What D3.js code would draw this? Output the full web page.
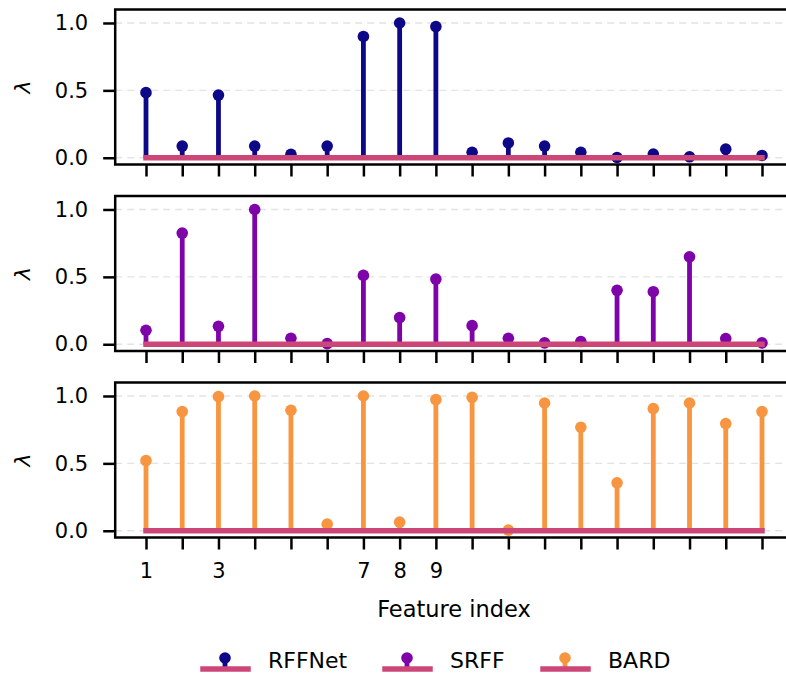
<!DOCTYPE html>
<html>
<head>
<meta charset="utf-8">
<script src="https://cdn.jsdelivr.net/npm/d3@7"></script>
<style>
  body { margin: 0; background: #fff; }
  svg { display: block; font-family: "DejaVu Sans", sans-serif; }
  .grid line { stroke: #e3e3e3; stroke-width: 1.4; stroke-dasharray: 7,5; }
  .axis path { display: none; }
  .axis line { stroke: #000; stroke-width: 2.5; }
  .spine { fill: none; stroke: #000; stroke-width: 2.5; }
</style>
</head>
<body>
<div id="chart"></div>
<script>
// feature indices and lambda values for each method
var features = [1, 2, 3, 4, 5, 6, 7, 8, 9, 10, 11, 12, 13, 14, 15, 16, 17, 18];
var labeledTicks = [1, 3, 7, 8, 9];
var yTicks = [0, 0.5, 1.0];
var methods = ["RFFNet", "SRFF", "BARD"];
var rffnet = [0.483, 0.087, 0.465, 0.087, 0.025, 0.087, 0.90, 1.0, 0.973, 0.04, 0.11, 0.087, 0.04, 0.002, 0.027, 0.007, 0.064, 0.017];
var srff   = [0.104, 0.825, 0.133, 1.0, 0.044, 0.005, 0.511, 0.198, 0.484, 0.138, 0.044, 0.01, 0.02, 0.40, 0.39, 0.649, 0.042, 0.01];
var bard   = [0.521, 0.884, 0.995, 1.0, 0.894, 0.049, 1.0, 0.064, 0.973, 0.99, 0.005, 0.948, 0.768, 0.356, 0.906, 0.948, 0.795, 0.884];
var series = [rffnet, srff, bard];
var colors = ["#0d0887", "#7e03a8", "#f89540"];
var baseColor = "#cc4778";

var W = 786, H = 677;
var left = 115.2, right = 792.8;
var panelTop = [9.5, 196, 382.5];
var panelH = 155;

var svg = d3.select("#chart").append("svg").attr("width", W).attr("height", H);

var x = d3.scaleLinear().domain([0.15, 18.85]).range([left, right]);

series.forEach(function(vals, p) {
    var top = panelTop[p], bottom = top + panelH;
    var y = d3.scaleLinear().domain([-0.05, 1.1]).range([bottom, top]);
    var g = svg.append("g");

    // dashed horizontal grid
    g.append("g").attr("class", "grid").selectAll("line")
        .data(yTicks).enter().append("line")
        .attr("x1", left).attr("x2", right)
        .attr("y1", function(d) { return y(d); })
        .attr("y2", function(d) { return y(d); });

    var data = features.map(function(f, i) { return {f: f, v: vals[i]}; });

    // stems
    g.selectAll("line.stem").data(data).enter().append("line")
        .attr("class", "stem")
        .attr("x1", function(d) { return x(d.f); })
        .attr("x2", function(d) { return x(d.f); })
        .attr("y1", y(0))
        .attr("y2", function(d) { return y(d.v); })
        .attr("stroke", colors[p]).attr("stroke-width", 4.8);

    // markers
    g.selectAll("circle").data(data).enter().append("circle")
        .attr("cx", function(d) { return x(d.f); })
        .attr("cy", function(d) { return y(d.v); })
        .attr("r", 5.8)
        .attr("fill", colors[p]);

    // baseline
    g.append("line")
        .attr("x1", x(features[0])).attr("x2", x(features[features.length - 1]))
        .attr("y1", y(0)).attr("y2", y(0))
        .attr("stroke", baseColor).attr("stroke-width", 5.5)
        .attr("stroke-linecap", "square");

    // axes
    var yAxis = d3.axisLeft(y).tickValues(yTicks).tickSize(12).tickPadding(15)
        .tickFormat(d3.format(".1f"));
    g.append("g").attr("class", "axis").attr("transform", "translate(" + left + ",0)").call(yAxis)
        .attr("font-size", null).attr("font-family", null)
        .selectAll("text").style("font-size", "21px").attr("fill", "#000");

    var xAxis = d3.axisBottom(x).tickValues(features).tickSize(12).tickPadding(14)
        .tickFormat(function(d) { return (p == 2 && labeledTicks.indexOf(d) >= 0) ? d : ""; });
    g.append("g").attr("class", "axis").attr("transform", "translate(0," + bottom + ")").call(xAxis)
        .attr("font-size", null).attr("font-family", null)
        .selectAll("text").style("font-size", "21px").attr("fill", "#000");

    // spines
    g.append("path").attr("class", "spine")
        .attr("d", "M" + right + "," + top + "H" + left + "V" + bottom + "H" + right);

    // y label
    g.append("text")
        .attr("transform", "translate(30," + ((top + bottom) / 2) + ") rotate(-90)")
        .attr("text-anchor", "middle")
        .style("font-size", "22px").style("font-style", "italic")
        .text("λ");
});

// x label
svg.append("text")
    .attr("x", (left + right) / 2).attr("y", 617)
    .attr("text-anchor", "middle")
    .style("font-size", "22.5px")
    .text("Feature index");

// legend
var legX = [201, 383, 541];
var legend = svg.append("g");
methods.forEach(function(m, i) {
    var lg = legend.append("g").attr("transform", "translate(" + legX[i] + ",0)");
    lg.append("line").attr("x1", 24).attr("x2", 24)
        .attr("y1", 669).attr("y2", 658)
        .attr("stroke", colors[i]).attr("stroke-width", 4.8);
    lg.append("circle").attr("cx", 24).attr("cy", 658).attr("r", 5.8).attr("fill", colors[i]);
    lg.append("line").attr("x1", 2).attr("x2", 47).attr("y1", 669).attr("y2", 669)
        .attr("stroke", baseColor).attr("stroke-width", 5.5).attr("stroke-linecap", "square");
    lg.append("text").attr("x", 67).attr("y", 668)
        .style("font-size", "22px").text(m);
});
</script>
</body>
</html>
